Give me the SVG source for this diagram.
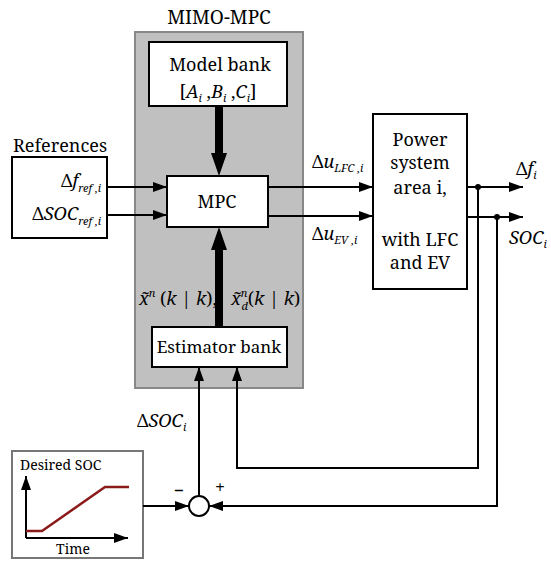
<svg xmlns="http://www.w3.org/2000/svg" width="551" height="561" viewBox="0 0 551 561">
<style>
  text { font-family: "Noto Serif", "DejaVu Serif", serif; fill: #000; }
  .t { font-size: 18px; }
  .m { font-size: 18px; font-style: italic; }
  .box { fill: #fff; stroke: #000; stroke-width: 2; }
  .ln { fill: none; stroke: #000; stroke-width: 2; }
  .thick { fill: none; stroke: #000; stroke-width: 8; }
</style>
<defs>
  <marker id="ah" markerWidth="14" markerHeight="10" refX="14" refY="5" orient="auto" markerUnits="userSpaceOnUse">
    <path d="M0,0 L14,5 L0,10 Z" fill="#000"/>
  </marker>
</defs>

<g id="mimo-mpc">
  <rect x="135" y="32" width="168" height="356" fill="#c0c0c0" stroke="#888" stroke-width="2"/>
  <text font-size="19" x="219" y="24" text-anchor="middle">MIMO-MPC</text>
</g>

<g id="model-bank">
  <rect class="box" x="149" y="42" width="138" height="64"/>
  <text class="t" x="220" y="71" text-anchor="middle">Model bank</text>
  <text class="t" x="218" y="98" text-anchor="middle">[<tspan font-style="italic">A</tspan><tspan font-size="11" font-style="italic" dy="4">i</tspan><tspan dy="-4"> ,</tspan><tspan font-style="italic">B</tspan><tspan font-size="11" font-style="italic" dy="4">i</tspan><tspan dy="-4"> ,</tspan><tspan font-style="italic">C</tspan><tspan font-size="11" font-style="italic" dy="4">i</tspan><tspan dy="-4">]</tspan></text>
</g>

<g id="mpc">
  <rect class="box" x="167" y="176" width="101" height="51"/>
  <text class="t" x="217" y="208" text-anchor="middle">MPC</text>
</g>

<g id="references">
  <text class="t" x="60" y="152" text-anchor="middle">References</text>
  <rect class="box" x="12" y="157" width="95" height="81"/>
  <text class="m" x="101" y="187" text-anchor="end"><tspan font-style="normal">Δ</tspan>f<tspan font-size="11" dy="5">ref ,i</tspan></text>
  <text class="m" x="101" y="220" text-anchor="end"><tspan font-style="normal">Δ</tspan>SOC<tspan font-size="11" dy="5">ref ,i</tspan></text>
</g>

<g id="power-system">
  <rect class="box" x="373" y="114" width="94" height="175"/>
  <text font-size="18" x="420" y="146" text-anchor="middle">Power</text>
  <text font-size="18" x="420" y="169" text-anchor="middle">system</text>
  <text font-size="18" x="420" y="194" text-anchor="middle">area i,</text>
  <text font-size="18" x="420" y="246" text-anchor="middle">with LFC</text>
  <text font-size="18" x="420" y="269" text-anchor="middle">and EV</text>
</g>

<g id="estimator-bank">
  <rect class="box" x="152" y="327" width="135" height="40"/>
  <text font-size="17" x="219" y="353" text-anchor="middle">Estimator bank</text>
</g>

<g id="desired-soc">
  <rect x="12" y="451" width="131" height="107" fill="#fff" stroke="#777" stroke-width="2"/>
  <text font-size="14" x="20" y="470">Desired SOC</text>
  <line class="ln" x1="26" y1="538" x2="26" y2="476" marker-end="url(#ah)"/>
  <line class="ln" x1="26" y1="538" x2="128" y2="538" marker-end="url(#ah)"/>
  <polyline points="26,531 42,531 105,487 129,487" fill="none" stroke="#8b1a1a" stroke-width="2.5"/>
  <text font-size="14" x="73" y="554" text-anchor="middle">Time</text>
</g>

<g id="sum-junction">
  <circle cx="199" cy="506" r="10" fill="#fff" stroke="#000" stroke-width="2"/>
  <text font-size="18" x="179" y="497" text-anchor="middle">−</text>
  <text font-size="18" x="220" y="494" text-anchor="middle">+</text>
</g>

<g id="connectors">
  <line class="thick" x1="219" y1="106" x2="219" y2="155"/>
  <path d="M211,153 L227,153 L219,176 Z" fill="#000"/>
  <line class="thick" x1="219" y1="327" x2="219" y2="248"/>
  <path d="M211,250 L227,250 L219,227 Z" fill="#000"/>
  <line class="ln" x1="107" y1="187" x2="167" y2="187" marker-end="url(#ah)"/>
  <line class="ln" x1="107" y1="215" x2="167" y2="215" marker-end="url(#ah)"/>
  <line class="ln" x1="268" y1="187" x2="373" y2="187" marker-end="url(#ah)"/>
  <line class="ln" x1="268" y1="216" x2="373" y2="216" marker-end="url(#ah)"/>
  <line class="ln" x1="467" y1="187" x2="523" y2="187" marker-end="url(#ah)"/>
  <line class="ln" x1="467" y1="217" x2="523" y2="217" marker-end="url(#ah)"/>
  <circle cx="478" cy="187" r="3" fill="#000"/>
  <circle cx="497" cy="217" r="3" fill="#000"/>
  <polyline class="ln" points="478,187 478,468 237,468 237,367" marker-end="url(#ah)"/>
  <polyline class="ln" points="497,217 497,506 209,506" marker-end="url(#ah)"/>
  <line class="ln" x1="143" y1="506" x2="189" y2="506" marker-end="url(#ah)"/>
  <line class="ln" x1="199" y1="496" x2="199" y2="367" marker-end="url(#ah)"/>
</g>

<g id="labels">
  <text class="m" x="312" y="168"><tspan font-style="normal">Δ</tspan>u<tspan font-size="11" dy="4">LFC ,i</tspan></text>
  <text class="m" x="312" y="240"><tspan font-style="normal">Δ</tspan>u<tspan font-size="11" dy="4">EV ,i</tspan></text>
  <text class="m" x="516" y="175"><tspan font-style="normal">Δ</tspan>f<tspan font-size="11" dy="4">i</tspan></text>
  <text class="m" x="509" y="244">SOC<tspan font-size="11" dy="4">i</tspan></text>
  <text class="m" x="137" y="427"><tspan font-style="normal">Δ</tspan>SOC<tspan font-size="11" dy="4">i</tspan></text>
  <text class="m" x="139" y="305">x̃<tspan font-size="11" dy="-8">n</tspan><tspan dy="8" font-style="normal"> (</tspan>k<tspan font-style="normal"> | </tspan>k<tspan font-style="normal">),</tspan></text>
  <text class="m" x="231" y="305">x̃<tspan font-size="11" dy="-8">n</tspan><tspan font-size="11" dx="-6" dy="13">d</tspan><tspan dy="-5" font-style="normal">(</tspan>k<tspan font-style="normal"> | </tspan>k<tspan font-style="normal">)</tspan></text>
</g>
</svg>
